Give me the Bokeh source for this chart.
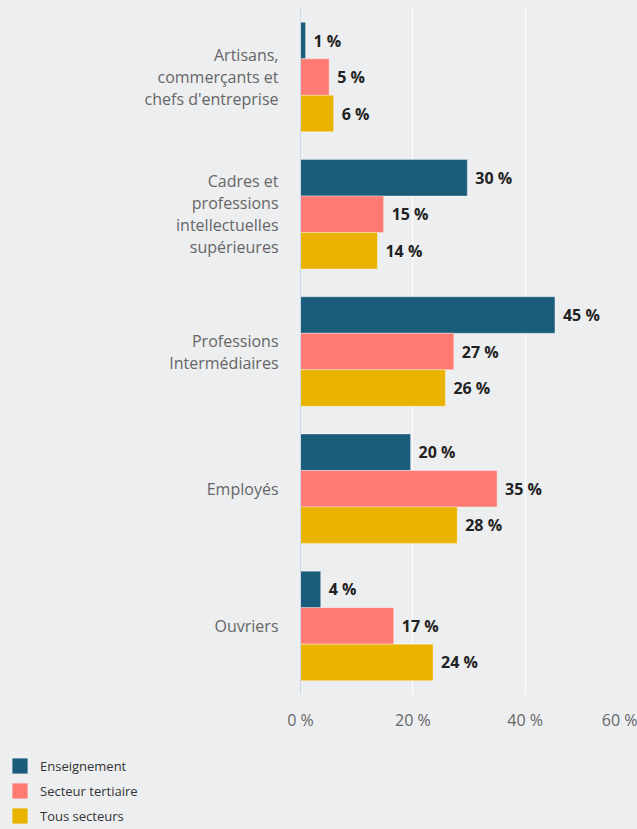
from bokeh.plotting import figure
from bokeh.models import (FactorRange, FixedTicker, PrintfTickFormatter, ColumnDataSource,
                          Legend, LegendItem, Span, Range1d)
from bokeh.transform import dodge
from bokeh.layouts import column
from bokeh.core.properties import value
from bokeh.embed import file_html
from bokeh.resources import INLINE

categories = [
    "Artisans,\ncommerçants et\nchefs d'entreprise",
    "Cadres et\nprofessions\nintellectuelles\nsupérieures",
    "Professions\nIntermédiaires",
    "Employés",
    "Ouvriers",
]
series_names = ["Enseignement", "Secteur tertiaire", "Tous secteurs"]
enseignement = [0.9, 29.7, 45.3, 19.6, 3.6]
secteur_tertiaire = [5.1, 14.8, 27.3, 35.0, 16.6]
tous_secteurs = [5.9, 13.7, 25.8, 27.9, 23.6]
enseignement_labels = ["1 %", "30 %", "45 %", "20 %", "4 %"]
secteur_tertiaire_labels = ["5 %", "15 %", "27 %", "35 %", "17 %"]
tous_secteurs_labels = ["6 %", "14 %", "26 %", "28 %", "24 %"]
x_ticks = [0, 20, 40, 60]
x_max = 60

colors = ["#1c5c7b", "#fe7b74", "#eab300"]
BG = "#edeef0"
FONT = "Open Sans"

src = ColumnDataSource(dict(
    cat=categories, zero=[0] * len(categories),
    ens=enseignement, sec=secteur_tertiaire, tous=tous_secteurs,
    ens_l=enseignement_labels, sec_l=secteur_tertiaire_labels, tous_l=tous_secteurs_labels,
))

W = 637
ZERO_PX = 300
x_start = -x_max * ZERO_PX / (W - ZERO_PX)

p = figure(
    width=W, height=745,
    y_range=FactorRange(*reversed(categories)),
    x_range=Range1d(x_start, x_max),
    y_axis_location=None,
    output_backend="svg", toolbar_location=None,
    background_fill_color=BG, border_fill_color=BG,
    min_border_left=0, min_border_right=0, min_border_top=8, min_border_bottom=51,
)
p.outline_line_color = None

offsets = [0.266, 0.0, -0.266]
cols = ["ens", "sec", "tous"]
lcols = ["ens_l", "sec_l", "tous_l"]
for c, lc, off, color in zip(cols, lcols, offsets, colors):
    p.hbar(y=dodge("cat", off, range=p.y_range), left=0, right=c, height=0.266,
           source=src, fill_color=color, line_color="white", line_alpha=0.35, line_width=1)
    p.text(x=c, y=dodge("cat", off, range=p.y_range), text=lc, source=src,
           x_offset=8, text_baseline="middle", text_align="left",
           text_font=value(FONT), text_font_style="bold", text_font_size="16px",
           text_color="#222222")

# category labels
p.text(x="zero", y="cat", text="cat", source=src, x_offset=-22,
       text_align="right", text_baseline="middle", text_line_height=1.0,
       text_font=value(FONT), text_font_size="16px", text_color="#666666")

# category axis line
p.add_layout(Span(location=0, dimension="height", line_color="#ccd6eb", line_width=1))

# x axis
p.xaxis.ticker = FixedTicker(ticks=x_ticks)
p.xaxis.formatter = PrintfTickFormatter(format="%d %%")
p.xaxis.axis_line_color = None
p.xaxis.major_tick_line_color = None
p.xaxis.minor_tick_line_color = None
p.xaxis.major_label_text_font = FONT
p.xaxis.major_label_text_font_size = "16px"
p.xaxis.major_label_text_color = "#666666"
p.xaxis.major_label_standoff = 8

p.xgrid.grid_line_color = "white"
p.xgrid.grid_line_width = 1
p.xgrid.ticker = FixedTicker(ticks=x_ticks)
p.ygrid.grid_line_color = None

# legend strip
lf = figure(width=W, height=84, output_backend="svg", toolbar_location=None,
            x_axis_location=None, y_axis_location=None,
            background_fill_color=BG, border_fill_color=BG,
            min_border_left=0, min_border_right=0, min_border_top=0, min_border_bottom=0,
            x_range=Range1d(0, 1), y_range=FactorRange(*categories))
lf.outline_line_color = None
lf.grid.visible = False
items = []
for c, name, color in zip(cols, series_names, colors):
    r = lf.hbar(y="cat", left=0, right=c, height=0.5, source=src, fill_color=color,
                line_color=None, visible=False)
    items.append(LegendItem(label=name, renderers=[r]))
leg = Legend(items=items, location=(10, 4), orientation="vertical",
             glyph_width=19, glyph_height=19, label_standoff=11, spacing=6,
             padding=0, margin=0, border_line_color=None, background_fill_alpha=0,
             label_text_font=FONT, label_text_font_size="13px", label_text_color="#333333",
             click_policy="none")
lf.add_layout(leg, "center")

layout = column(p, lf, spacing=0, styles={"background-color": BG})
html = file_html(layout, INLINE)
html = html.replace("<body>", f"<body style=\"background-color:{BG};\">")
open("out.html", "w").write(html)
